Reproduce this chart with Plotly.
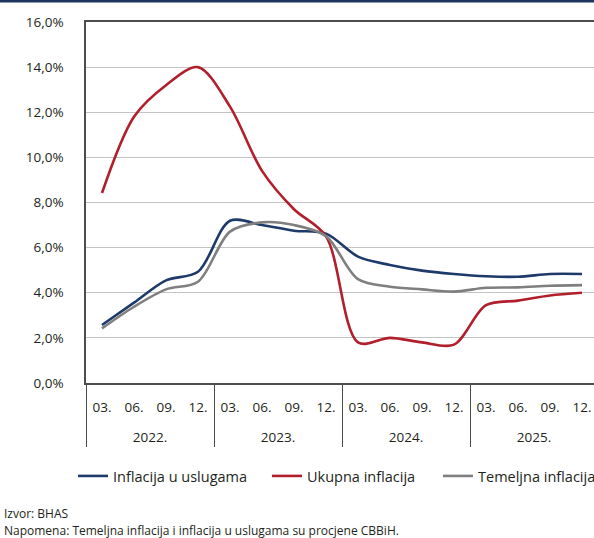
import plotly.graph_objects as go

years = ["2022."] * 4 + ["2023."] * 4 + ["2024."] * 4 + ["2025."] * 4
months = ["03.", "06.", "09.", "12."] * 4

usluge = [2.57, 3.56, 4.55, 4.93, 7.19, 7.00, 6.75, 6.62, 5.60, 5.23, 4.98, 4.83, 4.73, 4.71, 4.83, 4.83]
ukupna = [8.42, 11.8, 13.2, 14.0, 12.25, 9.4, 7.7, 6.5, 1.8, 2.0, 1.8, 1.7, 3.45, 3.65, 3.88, 4.0]
temeljna = [2.42, 3.38, 4.15, 4.49, 6.71, 7.12, 7.00, 6.51, 4.60, 4.27, 4.15, 4.05, 4.22, 4.24, 4.31, 4.34]

names = ["Inflacija u uslugama", "Ukupna inflacija", "Temeljna inflacija"]
colors = ["#1e3a6b", "#b01f2b", "#7f7f7f"]
series = [usluge, ukupna, temeljna]
legend_ids = ["legend", "legend2", "legend3"]
legend_px = [73, 267, 438]

W, H = 594, 538
ml, mt, mb = 86, 22, 155
pw = W - ml
ph = H - mt - mb

FONT = "Open Sans"
TXT = "#231f20"

# month labels padded with an empty second line to space the year row lower
month_labels = [m + "<br><span style='font-size:26px'> </span>" for m in months]

fig = go.Figure()
for name, col, vals, lg in zip(names, colors, series, legend_ids):
    fig.add_trace(go.Scatter(
        x=[years, month_labels], y=vals, name=name, mode="lines",
        line=dict(color=col, width=2.6, shape="spline", smoothing=0.9),
        hoverinfo="skip", legend=lg,
    ))

def px_x(p):
    return (p - ml) / pw

def px_y(p):
    return (H - mb - p) / ph

legend_layout = {}
for lg, lx in zip(legend_ids, legend_px):
    legend_layout[lg] = dict(
        orientation="h", x=px_x(lx), y=px_y(476), xanchor="left", yanchor="middle",
        font=dict(size=14.5, color=TXT), bgcolor="rgba(0,0,0,0)", borderwidth=0,
    )

fig.update_layout(
    width=W, height=H,
    margin=dict(l=ml, r=0, t=mt, b=mb, autoexpand=False),
    paper_bgcolor="white", plot_bgcolor="white",
    separators=",.",
    font=dict(family=FONT, size=13, color=TXT),
    showlegend=True,
    xaxis=dict(
        type="multicategory", range=[-0.5, 15.375], automargin=False,
        showline=True, linecolor="#4d4d4d", linewidth=1.5, mirror=True,
        showgrid=False, ticks="", showdividers=True, dividercolor="#4d4d4d", dividerwidth=1.2,
        tickfont=dict(size=13.5, color=TXT), ticklabelstandoff=11,
    ),
    yaxis=dict(
        range=[0, 16], dtick=2, tickformat=".1f", ticksuffix="%", automargin=False,
        showgrid=True, gridcolor="#c4c4c4", gridwidth=1.2,
        showline=True, linecolor="#4d4d4d", linewidth=1.5,
        zeroline=False, ticks="", ticklabelstandoff=18,
        tickfont=dict(size=13.5, color=TXT),
    ),
    shapes=[dict(type="rect", xref="paper", yref="paper",
                 x0=px_x(0), x1=1, y0=px_y(2.5), y1=px_y(0),
                 fillcolor="#1d3461", line=dict(width=0), layer="above")],
    annotations=[
        dict(xref="paper", yref="paper", x=px_x(2), y=px_y(513), xanchor="left", yanchor="middle",
             text="Izvor: BHAS", showarrow=False, font=dict(size=12, color=TXT)),
        dict(xref="paper", yref="paper", x=px_x(2), y=px_y(530), xanchor="left", yanchor="middle",
             text="Napomena: Temeljna inflacija i inflacija u uslugama su procjene CBBiH.",
             showarrow=False, font=dict(size=12, color=TXT)),
    ],
    **legend_layout,
)

fig.write_html(
    "out.html",
    config={"displayModeBar": False},
    post_script="document.body.style.margin='0px';document.body.style.overflow='hidden';",
)
